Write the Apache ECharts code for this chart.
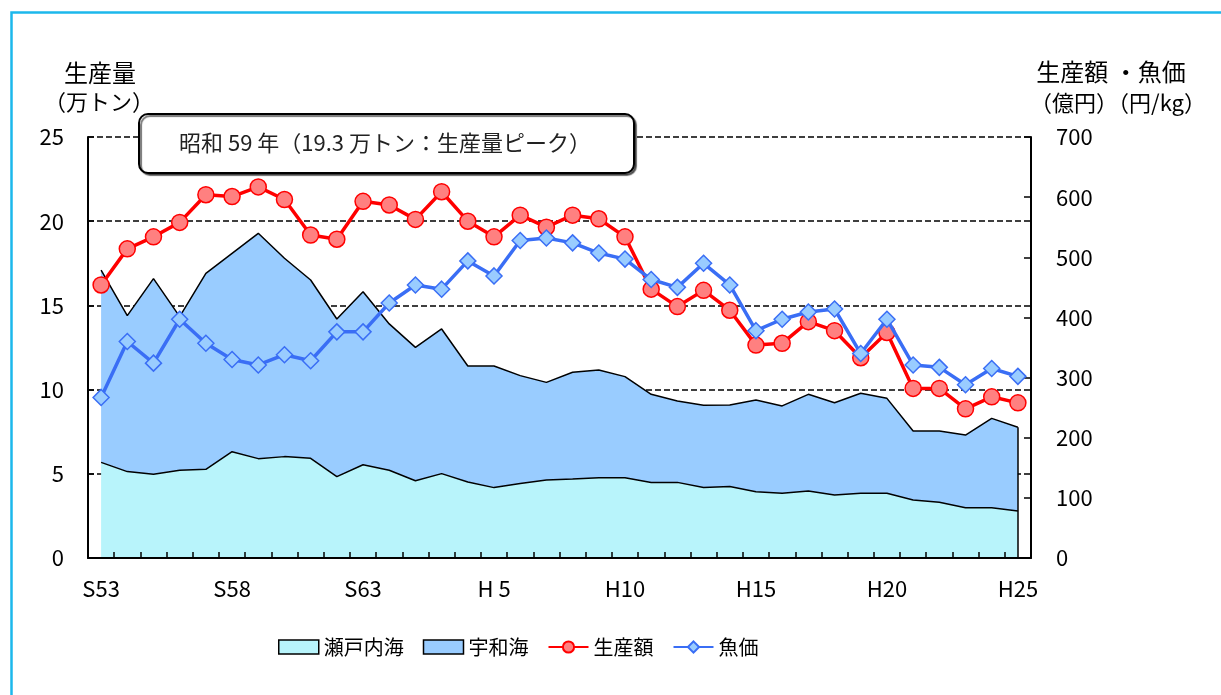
<!DOCTYPE html>
<html>
<head>
<meta charset="utf-8">
<script src="https://cdn.jsdelivr.net/npm/echarts@6/dist/echarts.min.js"></script>
<style>
  html, body { margin: 0; padding: 0; background: #fff; }
  #main { width: 1221px; height: 695px; }
</style>
</head>
<body>
<div id="main"></div>
<script>
// 年次 (S53〜H25)
var years = ['S53','S54','S55','S56','S57','S58','S59','S60','S61','S62','S63',
  'H 1','H 2','H 3','H 4','H 5','H 6','H 7','H 8','H 9',
  'H10','H11','H12','H13','H14','H15','H16','H17','H18','H19','H20','H21','H22','H23','H24','H25'];
// 生産量 (万トン)
var setouchi = [5.68,5.13,4.97,5.21,5.27,6.31,5.90,6.02,5.92,4.83,5.54,5.21,4.59,5.01,4.51,4.18,4.43,4.63,
  4.69,4.77,4.77,4.49,4.49,4.18,4.24,3.94,3.84,3.98,3.74,3.84,3.84,3.44,3.31,2.99,2.99,2.79];
var uwakai = [11.42,9.26,11.62,9.12,11.63,11.78,13.38,11.78,10.59,9.36,10.27,8.69,7.92,8.59,6.89,7.22,6.40,5.80,
  6.34,6.39,6.00,5.23,4.83,4.89,4.85,5.44,5.19,5.74,5.48,5.94,5.64,4.10,4.23,4.31,5.30,4.97];
// 生産額 (億円)
var seisangaku = [454,514,534,558,604,601,617,596,537,530,593,587,563,609,560,534,570,550,
  570,564,534,447,418,445,412,354,357,393,378,333,375,282,282,248,268,258];
// 魚価 (円/kg)
var gyoka = [267,360,324,397,357,330,321,338,328,376,376,424,454,447,494,469,528,532,
  524,507,497,463,450,490,454,378,397,409,414,340,397,321,317,288,315,302];

var FONT = '"Noto Sans CJK JP", sans-serif';
var last = years.length - 1;

var chart = echarts.init(document.getElementById('main'));
var option = {
  animation: false,
  backgroundColor: '#fff',
  textStyle: { fontFamily: FONT, color: '#000' },
  grid: { left: 88, right: 190, top: 137, bottom: 137 },
  legend: {
    left: 273, top: 632,
    itemWidth: 40, itemHeight: 14, itemGap: 19,
    textStyle: { fontSize: 20, fontFamily: FONT, color: '#000' },
    data: [
      { name: '瀬戸内海', icon: 'rect', itemStyle: { color: '#b8f4fb', borderColor: '#000', borderWidth: 1.5 } },
      { name: '宇和海', icon: 'rect', itemStyle: { color: '#99ccff', borderColor: '#000', borderWidth: 1.5 } },
      { name: '生産額' },
      { name: '魚価' }
    ]
  },
  xAxis: {
    type: 'category',
    data: years,
    boundaryGap: true,
    zlevel: 1,
    axisLine: { lineStyle: { color: '#000', width: 2 } },
    axisTick: { show: true, inside: true, length: 6, interval: 0, alignWithLabel: false, lineStyle: { color: '#000', width: 1.5 } },
    axisLabel: { interval: 4, fontSize: 22, margin: 20, color: '#000', fontFamily: FONT },
    splitLine: { show: false }
  },
  yAxis: [
    {
      type: 'value', min: 0, max: 25, interval: 5,
      axisLine: { show: true, lineStyle: { color: '#000', width: 2 } },
      axisTick: { show: true, inside: true, length: 6, lineStyle: { color: '#000', width: 1.5 } },
      axisLabel: { fontSize: 22, margin: 24, color: '#000', fontFamily: FONT },
      splitLine: { show: true, lineStyle: { color: '#000', width: 1.5, type: [6, 3] } }
    },
    {
      type: 'value', min: 0, max: 700, interval: 100,
      axisLine: { show: true, lineStyle: { color: '#000', width: 2 } },
      axisTick: { show: true, inside: true, length: 7, lineStyle: { color: '#000', width: 1.5 } },
      axisLabel: { fontSize: 22, margin: 25, color: '#000', fontFamily: FONT },
      splitLine: { show: false }
    }
  ],
  series: [
    {
      name: '瀬戸内海', type: 'line', stack: 'vol', yAxisIndex: 0,
      data: setouchi, symbol: 'none', z: 3,
      itemStyle: { color: '#b8f4fb' },
      lineStyle: { color: '#000', width: 1.5 },
      areaStyle: { color: '#b8f4fb', opacity: 1 }
    },
    {
      name: '宇和海', type: 'line', stack: 'vol', yAxisIndex: 0,
      data: uwakai, symbol: 'none', z: 2,
      itemStyle: { color: '#99ccff' },
      lineStyle: { color: '#000', width: 1.5 },
      areaStyle: { color: '#99ccff', opacity: 1 },
      // 右端の縦の縁取り
      markLine: {
        silent: true, symbol: 'none', label: { show: false },
        lineStyle: { color: '#000', width: 1.5, type: 'solid' },
        data: [[{ coord: [years[last], 0] }, { coord: [years[last], setouchi[last] + uwakai[last]] }]]
      }
    },
    {
      name: '生産額', type: 'line', yAxisIndex: 1,
      data: seisangaku, symbol: 'circle', symbolSize: 16, z: 4,
      lineStyle: { color: '#ff0000', width: 3.5 },
      itemStyle: { color: '#ff8080', borderColor: '#ff0000', borderWidth: 1.5 }
    },
    {
      name: '魚価', type: 'line', yAxisIndex: 1,
      data: gyoka, symbol: 'diamond', symbolSize: 16, z: 5,
      lineStyle: { color: '#3a6ef5', width: 3.5 },
      itemStyle: { color: '#99ccff', borderColor: '#3a6ef5', borderWidth: 1.5 }
    }
  ],
  graphic: [
    // 外枠
    { type: 'rect', left: 9, top: 10, z: 0, silent: true,
      shape: { width: 1240, height: 720 },
      style: { fill: 'none', stroke: '#1cb8ec', lineWidth: 2.5 } },
    // 軸タイトル
    { type: 'text', x: 100, y: 73, style: { text: '生産量', font: '24px ' + FONT, fill: '#000', textAlign: 'center', textVerticalAlign: 'middle' } },
    { type: 'text', x: 99, y: 102, style: { text: '（万トン）', font: '22px ' + FONT, fill: '#000', textAlign: 'center', textVerticalAlign: 'middle' } },
    { type: 'text', x: 1111, y: 72, style: { text: '生産額 ・魚価', font: '24px ' + FONT, fill: '#000', textAlign: 'center', textVerticalAlign: 'middle' } },
    { type: 'text', x: 1118, y: 103, style: { text: '（億円）（円/kg）', font: '22px ' + FONT, fill: '#000', textAlign: 'center', textVerticalAlign: 'middle' } },
    // 注記
    { type: 'rect', left: 138, top: 113, z: 10,
      shape: { width: 495, height: 59, r: 9 },
      style: { fill: '#fff', stroke: '#000', lineWidth: 2, shadowColor: 'rgba(0,0,0,0.55)', shadowOffsetX: 2, shadowOffsetY: 2, shadowBlur: 1 } },
    { type: 'text', x: 385, y: 143, z: 11,
      style: { text: '昭和 59 年（19.3 万トン：生産量ピーク）', font: '22px ' + FONT, fill: '#222', textAlign: 'center', textVerticalAlign: 'middle' } }
  ]
};
chart.setOption(option);
</script>
</body>
</html>
